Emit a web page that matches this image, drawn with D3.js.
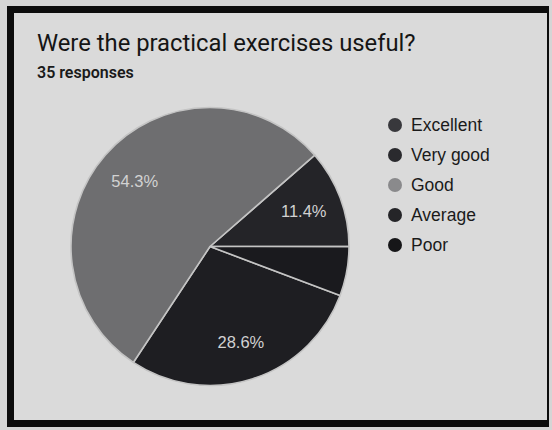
<!DOCTYPE html>
<html>
<head>
<meta charset="utf-8">
<script src="https://cdn.jsdelivr.net/npm/d3@7"></script>
<style>
  html, body { margin: 0; padding: 0; background: #d5d5d5; }
  svg { display: block; font-family: Roboto, Arial, sans-serif; }
</style>
</head>
<body>
<svg id="chart" width="552" height="430"></svg>
<script>
// Survey answers (legend order) and response counts out of 35
const categories = ["Excellent", "Very good", "Good", "Average", "Poor"];
const counts = [4, 10, 19, 2, 0];
// Slice colours per answer
const colors = ["#242428", "#1e1e22", "#6e6e70", "#1a1a1e", "#141416"];
const legendColors = ["#38383c", "#2a2a2e", "#8a8a8c", "#252528", "#161618"];
// Order in which the slices run clockwise around the pie
const sliceOrder = ["Excellent", "Average", "Very good", "Good", "Poor"];
const title = "Were the practical exercises useful?";
const subtitle = "35 responses";

const svg = d3.select("#chart");

// Card frame
svg.append("rect").attr("x", 7).attr("y", 6).attr("width", 542).attr("height", 421).attr("fill", "#0c0c0c");
svg.append("rect").attr("x", 14).attr("y", 13).attr("width", 533).attr("height", 407).attr("fill", "#dadada");

svg.append("text").attr("x", 37).attr("y", 51)
  .attr("font-size", 23.8).attr("fill", "#151515").text(title);
svg.append("text").attr("x", 37).attr("y", 78)
  .attr("font-size", 16).attr("font-weight", 600).attr("fill", "#1a1a1a").text(subtitle);

const total = d3.sum(counts);
const data = categories.map((c, i) => ({ cat: c, value: counts[i], color: colors[i] }));

const startDeg = 48.9;
const pie = d3.pie()
  .value(d => d.value)
  .sort((a, b) => sliceOrder.indexOf(a.cat) - sliceOrder.indexOf(b.cat))
  .startAngle(startDeg * Math.PI / 180)
  .endAngle(startDeg * Math.PI / 180 + 2 * Math.PI);

const cx = 210, cy = 246.5, R = 139;
const arc = d3.arc().innerRadius(0).outerRadius(R);
const labelArc = d3.arc().innerRadius(R * 0.72).outerRadius(R * 0.72);

const g = svg.append("g").attr("transform", `translate(${cx},${cy})`);
const arcs = pie(data).filter(d => d.data.value > 0);

g.selectAll("path.slice").data(arcs).join("path")
  .attr("class", "slice")
  .attr("d", arc)
  .attr("fill", d => d.data.color)
  .attr("stroke", "#c4c4c4")
  .attr("stroke-width", 1.6)
  .attr("stroke-linejoin", "round");

const fmt = v => (v / total * 100).toFixed(1) + "%";
g.selectAll("text.pct").data(arcs.filter(d => d.data.value / total > 0.08)).join("text")
  .attr("class", "pct")
  .attr("transform", d => `translate(${labelArc.centroid(d)})`)
  .attr("text-anchor", "middle")
  .attr("dy", "0.36em")
  .attr("font-family", "Arial, 'Liberation Sans', sans-serif")
  .attr("font-size", 16.5)
  .attr("fill", "#d2d2d2")
  .text(d => fmt(d.data.value));

// Legend
const legend = svg.append("g").attr("transform", "translate(395,125)");
const item = legend.selectAll("g").data(categories).join("g")
  .attr("transform", (d, i) => `translate(0,${i * 30})`);
item.append("circle").attr("r", 7).attr("fill", (d, i) => legendColors[i]);
item.append("text").attr("x", 16).attr("dy", "0.36em")
  .attr("font-family", "Arial, 'Liberation Sans', sans-serif")
  .attr("font-size", 17.5).attr("fill", "#1a1a1a").text(d => d);
</script>
</body>
</html>
